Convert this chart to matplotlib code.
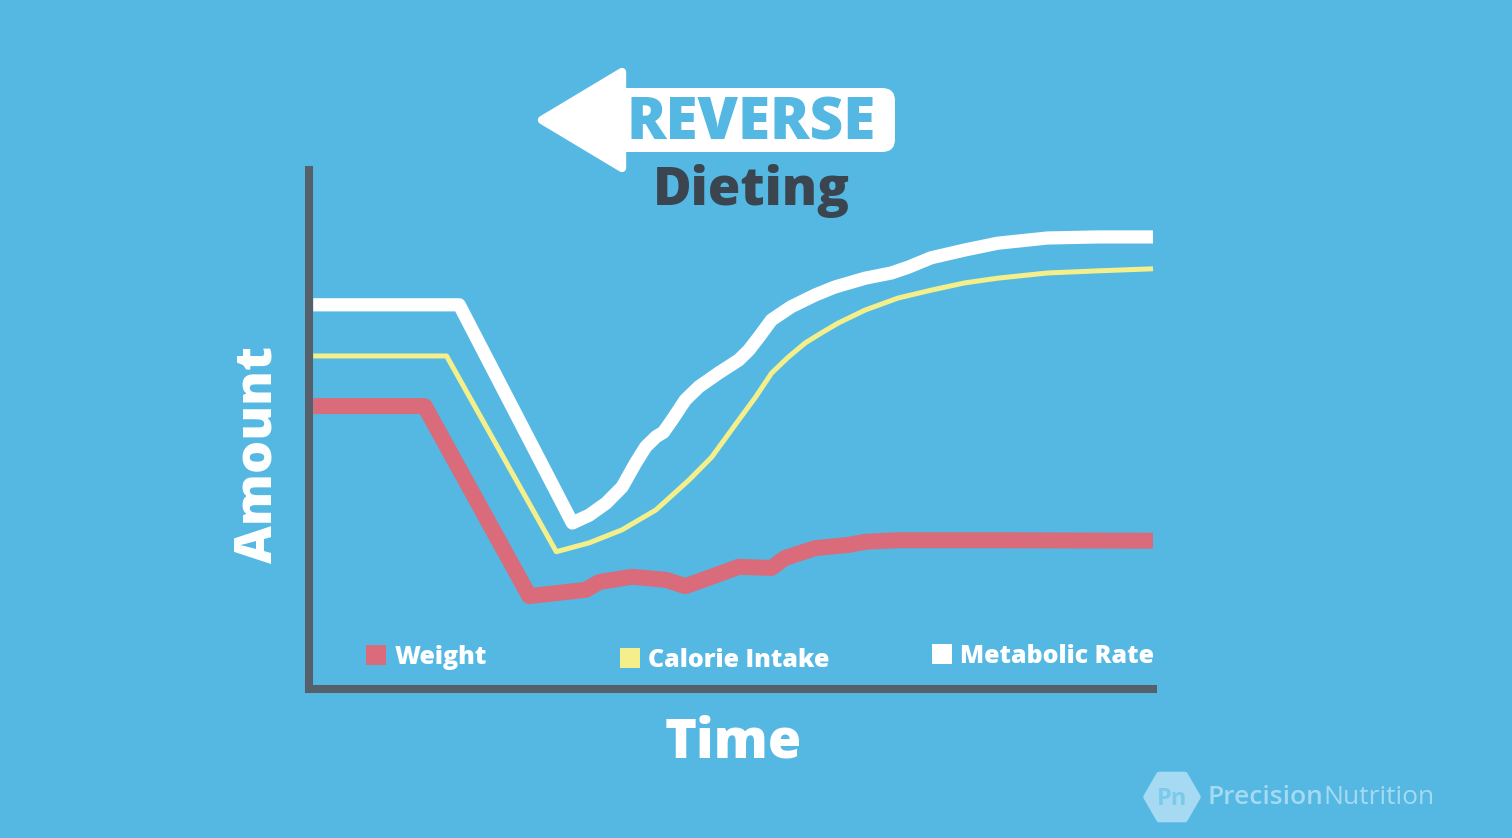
import math
import matplotlib
matplotlib.use("Agg")
import matplotlib.pyplot as plt
from matplotlib.patches import FancyBboxPatch, Polygon, Rectangle, RegularPolygon

# ---------------- data (time 0-100, amount 0-100) ----------------
metab_t = [0.5, 17.8, 31.2, 33.2, 35.2, 37.1, 38.7, 39.9, 41.1, 42.0, 43.0, 44.6,
           46.2, 48.5, 50.9, 52.1, 53.3, 54.8, 57.1, 60.0, 62.3, 65.9, 69.0, 71.0,
           73.7, 77.7, 81.6, 87.5, 93.4, 100.0]
metab_v = [73.6, 73.6, 31.8, 33.3, 35.6, 38.7, 43.3, 46.4, 48.3, 49.2, 51.5, 55.4,
           57.9, 60.5, 63.0, 64.9, 67.4, 70.7, 73.2, 75.5, 77.0, 78.7, 79.7, 80.8,
           82.6, 84.1, 85.4, 86.4, 86.6, 86.6]

cal_t = [0.5, 16.3, 29.3, 33.2, 37.1, 41.1, 45.0, 47.7, 50.9, 52.9, 54.8, 56.8,
         58.8, 60.7, 62.7, 65.9, 69.8, 73.7, 77.7, 81.6, 87.5, 93.4, 100.0]
cal_v = [63.8, 63.8, 26.3, 28.0, 30.5, 34.3, 40.0, 44.4, 51.5, 55.9, 60.5, 63.6,
         66.3, 68.2, 70.1, 72.6, 74.9, 76.4, 77.8, 78.7, 79.7, 80.1, 80.5]

weight_t = [0.5, 13.7, 26.1, 32.8, 34.4, 38.3, 42.3, 44.6, 48.2, 50.9, 54.8, 56.4,
            60.0, 63.9, 65.9, 69.8, 81.6, 100.0]
weight_v = [54.2, 54.2, 17.8, 19.0, 20.5, 21.5, 20.9, 19.7, 21.8, 23.4, 23.2, 25.1,
            27.0, 27.6, 28.2, 28.5, 28.5, 28.4]

legend_labels = ["Weight", "Calorie Intake", "Metabolic Rate"]
x_label = "Time"
y_label = "Amount"
title_top = "REVERSE"
title_bottom = "Dieting"
brand_a = "Precision"
brand_b = "Nutrition"

# ---------------- styles ----------------
BG = "#54b8e3"
RED = "#d96b7a"
YELLOW = "#f4ef8a"
WHITE = "#ffffff"
SPINE = "#55606a"
DARK = "#3b4550"
LOGO = "#a6daf2"
FONT = ["Open Sans", "DejaVu Sans"]

W, H = 1512, 838
fig = plt.figure(figsize=(W / 100, H / 100), dpi=100, facecolor=BG)

# overlay in pixel coordinates for decorations / texts
ov = fig.add_axes([0, 0, 1, 1], zorder=0)
ov.set_xlim(0, W)
ov.set_ylim(H, 0)
ov.axis("off")
ov.patch.set_alpha(0)

# main chart axes
L, R, T, B = 309, 1153, 170, 689
ax = fig.add_axes([L / W, 1 - B / H, (R - L) / W, (B - T) / H], zorder=2)
ax.patch.set_alpha(0)
ax.set_xlim(0, 100)
ax.set_ylim(0, 100 * (B - T) / (B - 167))
for s in ["top", "right"]:
    ax.spines[s].set_visible(False)
for s in ["left", "bottom"]:
    ax.spines[s].set_color(SPINE)
    ax.spines[s].set_linewidth(5.8)
    ax.spines[s].set_capstyle("projecting")
ax.set_xticks([])
ax.set_yticks([])

ax.plot(weight_t, weight_v, color=RED, lw=11.5, solid_joinstyle="round",
        solid_capstyle="butt", clip_on=False)
ax.plot(cal_t, cal_v, color=YELLOW, lw=3.6, solid_joinstyle="round",
        solid_capstyle="butt", clip_on=False)
ax.plot(metab_t, metab_v, color=WHITE, lw=9.5, solid_joinstyle="round",
        solid_capstyle="butt", clip_on=False)

# axis labels
ov.text(733, 757, x_label, color=WHITE, fontsize=39, fontweight=800,
        family=FONT, ha="center", va="baseline")
ov.text(272, 454, y_label, color=WHITE, fontsize=37.5, fontweight=800,
        family=FONT, ha="center", va="baseline", rotation=90,
        rotation_mode="anchor")

# legend (manual, spread along the bottom)
leg_colors = [RED, YELLOW, WHITE]
leg_box_x = [366, 620, 932]
leg_box_y = [645, 648, 644]
leg_text_x = [395, 648, 960]
for lab, c, bx, by, tx in zip(legend_labels, leg_colors, leg_box_x, leg_box_y, leg_text_x):
    ov.add_patch(Rectangle((bx, by), 20, 20, facecolor=c, edgecolor="none"))
    ov.text(tx, by + 19, lab, color=WHITE, fontsize=18, fontweight=800,
            family=FONT, ha="left", va="baseline")

# title arrow
ov.add_patch(FancyBboxPatch((612, 88), 283, 64, boxstyle="round,pad=0,rounding_size=13",
                            facecolor=WHITE, edgecolor="none"))
ov.add_patch(Polygon([(542, 120), (622, 72), (622, 168)], closed=True,
                     facecolor=WHITE, edgecolor=WHITE, lw=6, joinstyle="round"))
ov.text(751, 140, title_top, color=BG, fontsize=42, fontweight=800,
        family=FONT, ha="center", va="baseline")
ov.text(751, 205, title_bottom, color=DARK, fontsize=38, fontweight=800,
        family=FONT, ha="center", va="baseline")

# brand logo
ov.add_patch(RegularPolygon((1172, 797), 6, radius=26, orientation=math.pi / 6,
                            facecolor=LOGO, edgecolor=LOGO, lw=4, joinstyle="round"))
ov.text(1172, 805, "Pn", color="#7cc9ec", fontsize=17, fontweight="bold",
        family=FONT, ha="center", va="baseline")
ov.text(1208, 804, brand_a, color=LOGO, fontsize=19, fontweight=600,
        family=FONT, ha="left", va="baseline")
ov.text(1323, 804, brand_b, color=LOGO, fontsize=19, fontweight=400,
        family=FONT, ha="left", va="baseline")

fig.savefig("out.png", dpi=100, facecolor=BG)
